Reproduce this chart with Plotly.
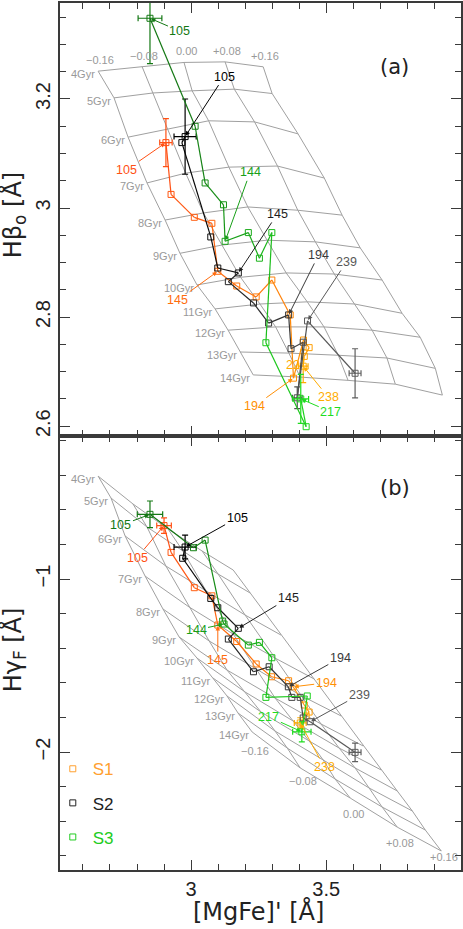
import plotly.graph_objects as go

# --- model grid labels ---
ages = ["4Gyr", "5Gyr", "6Gyr", "7Gyr", "8Gyr", "9Gyr", "10Gyr", "11Gyr", "12Gyr", "13Gyr", "14Gyr"]
feh = ["\u22120.16", "\u22120.08", "0.00", "+0.08", "+0.16"]

# --- panel (a) grid: Hbeta_o vs [MgFe]', one row per age, one column per [Fe/H] ---
grid_a_x = [
    [2.656, 2.819, 2.974, 3.126, 3.267],
    [2.715, 2.859, 3.004, 3.160, 3.300],
    [2.767, 2.913, 3.065, 3.235, 3.396],
    [2.837, 2.980, 3.140, 3.320, 3.493],
    [2.904, 3.046, 3.210, 3.395, 3.559],
    [2.959, 3.113, 3.280, 3.460, 3.626],
    [3.022, 3.183, 3.352, 3.530, 3.707],
    [3.089, 3.255, 3.430, 3.605, 3.781],
    [3.137, 3.313, 3.492, 3.670, 3.848],
    [3.181, 3.362, 3.545, 3.725, 3.904],
    [3.230, 3.404, 3.581, 3.756, 3.930],
]
grid_a_y = [
    [3.251, 3.259, 3.267, 3.268, 3.259],
    [3.202, 3.211, 3.215, 3.218, 3.210],
    [3.130, 3.145, 3.160, 3.158, 3.136],
    [3.046, 3.064, 3.075, 3.077, 3.055],
    [2.978, 2.991, 3.002, 2.996, 2.987],
    [2.917, 2.932, 2.941, 2.938, 2.927],
    [2.859, 2.873, 2.881, 2.879, 2.868],
    [2.815, 2.824, 2.828, 2.824, 2.807],
    [2.776, 2.782, 2.782, 2.776, 2.763],
    [2.736, 2.734, 2.730, 2.725, 2.706],
    [2.694, 2.690, 2.684, 2.677, 2.657],
]

# --- panel (b) grid: Hgamma_F vs [MgFe]' ---
grid_b_x = [
    [2.656, 2.785, 2.915, 3.041, 3.156],
    [2.704, 2.837, 2.970, 3.100, 3.219],
    [2.756, 2.907, 3.056, 3.200, 3.333],
    [2.830, 2.993, 3.156, 3.311, 3.456],
    [2.896, 3.067, 3.241, 3.404, 3.556],
    [2.956, 3.133, 3.311, 3.481, 3.637],
    [3.022, 3.200, 3.378, 3.548, 3.704],
    [3.081, 3.259, 3.437, 3.607, 3.763],
    [3.133, 3.311, 3.489, 3.659, 3.819],
    [3.174, 3.356, 3.533, 3.707, 3.867],
    [3.226, 3.404, 3.589, 3.763, 3.926],
]
grid_b_y = [
    [-0.405, -0.566, -0.711, -0.838, -0.948],
    [-0.532, -0.699, -0.838, -0.971, -1.081],
    [-0.751, -0.925, -1.069, -1.208, -1.324],
    [-0.983, -1.162, -1.318, -1.457, -1.578],
    [-1.173, -1.358, -1.520, -1.671, -1.792],
    [-1.335, -1.526, -1.688, -1.838, -1.965],
    [-1.457, -1.653, -1.821, -1.977, -2.104],
    [-1.572, -1.769, -1.936, -2.092, -2.225],
    [-1.676, -1.879, -2.046, -2.208, -2.341],
    [-1.775, -1.977, -2.156, -2.318, -2.451],
    [-1.884, -2.092, -2.266, -2.434, -2.572],
]

# --- measurements, panel (a) ---
s1_a_x = [2.907, 2.926, 3.012, 3.077, 3.099, 3.169, 3.241, 3.299, 3.367, 3.379, 3.416, 3.437, 3.419, 3.415]
s1_a_y = [3.120, 3.025, 2.983, 2.972, 2.884, 2.857, 2.837, 2.868, 2.804, 2.688, 2.758, 2.744, 2.728, 2.710]
s1_a_ex = [0.023, 0, 0, 0, 0, 0, 0, 0, 0, 0, 0, 0, 0, 0.018]
s1_a_ey = [0.044, 0, 0, 0, 0, 0, 0, 0, 0, 0, 0, 0, 0, 0.030]

s2_a_x = [2.978, 2.966, 3.073, 3.099, 3.175, 3.138, 3.231, 3.287, 3.361, 3.370, 3.415, 3.393, 3.431, 3.607]
s2_a_y = [3.131, 3.120, 2.947, 2.890, 2.881, 2.865, 2.826, 2.789, 2.804, 2.742, 2.754, 2.652, 2.793, 2.697]
s2_a_ex = [0.041, 0, 0, 0, 0, 0, 0, 0, 0, 0, 0, 0.018, 0, 0.022]
s2_a_ey = [0.069, 0, 0, 0, 0, 0, 0, 0, 0, 0, 0, 0.020, 0, 0.045]

s3_a_x = [2.848, 3.015, 3.052, 3.120, 3.126, 3.212, 3.253, 3.299, 3.277, 3.426, 3.406]
s3_a_y = [3.348, 3.150, 3.046, 3.006, 2.939, 2.955, 2.908, 2.955, 2.753, 2.599, 2.650]
s3_a_ex = [0.044, 0, 0, 0, 0, 0, 0, 0, 0, 0, 0.029]
s3_a_ey = [0.083, 0, 0, 0, 0, 0, 0, 0, 0, 0, 0.045]

# --- measurements, panel (b) ---
s1_b_x = [2.900, 2.926, 3.012, 3.077, 3.099, 3.169, 3.241, 3.298, 3.361, 3.378, 3.419, 3.437, 3.426, 3.404]
s1_b_y = [-0.691, -0.846, -1.050, -1.097, -1.266, -1.361, -1.491, -1.565, -1.588, -1.623, -1.728, -1.769, -1.792, -1.832]
s1_b_ex = [0.027, 0, 0, 0, 0, 0, 0, 0, 0, 0, 0, 0, 0, 0.022]
s1_b_ey = [0.045, 0, 0, 0, 0, 0, 0, 0, 0, 0, 0, 0, 0, 0.030]

s2_b_x = [2.978, 2.969, 3.073, 3.099, 3.175, 3.138, 3.231, 3.289, 3.360, 3.373, 3.404, 3.415, 3.441, 3.607]
s2_b_y = [-0.815, -0.880, -1.112, -1.166, -1.285, -1.347, -1.536, -1.507, -1.623, -1.684, -1.684, -1.803, -1.825, -2.002]
s2_b_ex = [0.041, 0, 0, 0, 0, 0, 0, 0, 0, 0, 0, 0, 0, 0.022]
s2_b_ey = [0.069, 0, 0, 0, 0, 0, 0, 0, 0, 0, 0, 0, 0, 0.054]

s3_b_x = [2.848, 3.009, 3.052, 3.117, 3.122, 3.212, 3.253, 3.299, 3.277, 3.430, 3.410]
s3_b_y = [-0.626, -0.819, -0.775, -1.243, -1.260, -1.382, -1.366, -1.455, -1.684, -1.676, -1.883]
s3_b_ex = [0.047, 0, 0, 0, 0, 0, 0, 0, 0, 0, 0.034]
s3_b_ey = [0.077, 0, 0, 0, 0, 0, 0, 0, 0, 0, 0.058]

# --- point labels: (point index, text, label offset x px, label offset y px) ---
s1_a_lab = [(0, "105", -39, 27), (4, "145", -40, 29), (9, "194", -39, 28), (13, "238", 25, 31)]
s2_a_lab = [(0, "105", 39, -60), (4, "145", 39, -59), (8, "194", 30, -60), (12, "239", 39, -59)]
s3_a_lab = [(0, "105", 30, 13), (4, "144", 25, -69), (10, "217", 30, 13)]
s1_b_lab = [(0, "105", -27, 32), (4, "145", 0, 35), (9, "194", 33, -4), (13, "238", 24, 44)]
s2_b_lab = [(0, "105", 52, -29), (4, "145", 50, -30), (8, "194", 52, -29), (12, "239", 49, -27)]
s3_b_lab = [(0, "105", -29, 11), (4, "144", -28, 6), (10, "217", -33, -15)]
# label without arrow, half hidden under the S1 points in panel (a)
s1_a_txt = [(13, "22", -10, 1)]

# colour runs from the centre of the galaxy outwards
S1_COL = ((255, 80, 20), (255, 172, 0))
S2_COL = ((0, 0, 0), (95, 95, 95))
S3_COL = ((20, 120, 20), (30, 220, 30))

GRID = "#a0a0a0"
FRAME = "#3a3a3a"
FONT = "Liberation Sans"

fig = go.Figure()
annotations = []


def blend(c0, c1, t):
    return "rgb(%d,%d,%d)" % tuple(round(a + (b - a) * t) for a, b in zip(c0, c1))


def add_grid(gx, gy, xa, ya, zlab_top):
    for i in range(len(gx)):
        fig.add_trace(go.Scatter(x=gx[i], y=gy[i], mode="lines", xaxis=xa, yaxis=ya,
                                 line=dict(color=GRID, width=1), showlegend=False, hoverinfo="skip"))
        annotations.append(dict(x=gx[i][0], y=gy[i][0], xref=xa, yref=ya, text=ages[i],
                                showarrow=False, xanchor="right", xshift=-1, yshift=-3,
                                font=dict(family=FONT, size=11, color="#999999")))
    for j in range(len(feh)):
        fig.add_trace(go.Scatter(x=[r[j] for r in gx], y=[r[j] for r in gy], mode="lines",
                                 xaxis=xa, yaxis=ya, line=dict(color=GRID, width=1),
                                 showlegend=False, hoverinfo="skip"))
        if zlab_top:
            annotations.append(dict(x=gx[0][j], y=gy[0][j], xref=xa, yref=ya, text=feh[j],
                                    showarrow=False, xshift=2, yshift=11,
                                    font=dict(family=FONT, size=11, color="#999999")))
        else:
            shift = [-19, -13, -16, -16, -6][j]
            annotations.append(dict(x=gx[-1][j], y=gy[-1][j], xref=xa, yref=ya, text=feh[j],
                                    showarrow=False, xshift=3, yshift=shift,
                                    font=dict(family=FONT, size=11, color="#999999")))


def add_series(x, y, ex, ey, labs, cols, xa, ya, plain=()):
    n = len(x)
    c = [blend(cols[0], cols[1], k / (n - 1)) for k in range(n)]
    for k in range(n - 1):
        fig.add_trace(go.Scatter(x=x[k:k + 2], y=y[k:k + 2], mode="lines", xaxis=xa, yaxis=ya,
                                 line=dict(color=c[k], width=1.2), showlegend=False, hoverinfo="skip"))
    fig.add_trace(go.Scatter(x=x, y=y, mode="markers", xaxis=xa, yaxis=ya, showlegend=False,
                             marker=dict(symbol="square-open", size=6, color=c, line=dict(width=1))))
    for k in range(n):
        if ex[k] or ey[k]:
            fig.add_trace(go.Scatter(
                x=[x[k]], y=[y[k]], mode="markers", xaxis=xa, yaxis=ya, showlegend=False,
                marker=dict(size=1, color=c[k]),
                error_x=dict(type="data", array=[ex[k]], color=c[k], thickness=1.2, width=3),
                error_y=dict(type="data", array=[ey[k]], color=c[k], thickness=1.2, width=3)))
    for k, txt, ax, ay in labs:
        annotations.append(dict(x=x[k], y=y[k], xref=xa, yref=ya, text=txt, showarrow=True,
                                ax=ax, ay=ay, arrowhead=2, arrowsize=0.9, arrowwidth=1,
                                arrowcolor=c[k], standoff=1,
                                font=dict(family=FONT, size=12.5, color=c[k])))
    for k, txt, dx, dy in plain:
        annotations.append(dict(x=x[k], y=y[k], xref=xa, yref=ya, text=txt, showarrow=False,
                                xshift=dx, yshift=dy,
                                font=dict(family=FONT, size=12.5, color=c[k])))


add_grid(grid_a_x, grid_a_y, "x", "y", True)
add_grid(grid_b_x, grid_b_y, "x2", "y2", False)

add_series(s1_a_x, s1_a_y, s1_a_ex, s1_a_ey, s1_a_lab, S1_COL, "x", "y", s1_a_txt)
add_series(s2_a_x, s2_a_y, s2_a_ex, s2_a_ey, s2_a_lab, S2_COL, "x", "y")
add_series(s3_a_x, s3_a_y, s3_a_ex, s3_a_ey, s3_a_lab, S3_COL, "x", "y")
add_series(s1_b_x, s1_b_y, s1_b_ex, s1_b_ey, s1_b_lab, S1_COL, "x2", "y2")
add_series(s2_b_x, s2_b_y, s2_b_ex, s2_b_ey, s2_b_lab, S2_COL, "x2", "y2")
add_series(s3_b_x, s3_b_y, s3_b_ex, s3_b_ey, s3_b_lab, S3_COL, "x2", "y2")

# legend entries (markers only)
for name, col in [("S1", "#ffa030"), ("S2", "#222222"), ("S3", "#22cc22")]:
    fig.add_trace(go.Scatter(x=[None], y=[None], mode="markers", xaxis="x2", yaxis="y2",
                             name="<span style='color:%s'>%s</span>" % (col, name), legendgroup=name,
                             marker=dict(symbol="square-open", size=6, color=col, line=dict(width=1))))

# panel tags and axis titles
title_font = dict(family="DejaVu Sans", size=24, color="#222")
for txt, px, py, ang, fnt in [
    ("(a)", 0.835, 0.926, 0, dict(family="DejaVu Sans", size=21, color="#222")),
    ("(b)", 0.835, 0.4406, 0, dict(family="DejaVu Sans", size=21, color="#222")),
    ("H\u03b2<sub>o</sub> [\u00c5]", -0.114, 0.7555, -90, title_font),
    ("H\u03b3<sub>F</sub> [\u00c5]", -0.114, 0.2537, -90, title_font),
    ("[MgFe]' [\u00c5]", 0.494, -0.0484, 0, title_font),
]:
    annotations.append(dict(x=px, y=py, xref="paper", yref="paper", text=txt, textangle=ang,
                            xanchor="center", yanchor="middle", showarrow=False, font=fnt))

axis_common = dict(showline=True, linecolor=FRAME, linewidth=1.5, mirror="ticks",
                   ticks="inside", ticklen=10, tickwidth=1.2, tickcolor=FRAME,
                   showgrid=False, zeroline=False, automargin=False,
                   tickfont=dict(family=FONT, size=20, color="#222"))

fig.update_layout(
    width=463, height=929,
    margin=dict(l=60, r=2, t=3, b=59, autoexpand=False),
    paper_bgcolor="white", plot_bgcolor="white",
    annotations=annotations,
    showlegend=True,
    legend=dict(x=-0.018, y=0.137, xanchor="left", yanchor="top", bgcolor="rgba(0,0,0,0)",
                tracegroupgap=9, font=dict(family=FONT, size=17)),
    xaxis=dict(axis_common, range=[2.515, 3.999], anchor="y", showticklabels=False,
               dtick=0.5, tick0=0,
               minor=dict(ticks="inside", ticklen=6, dtick=0.1, tick0=0, tickcolor=FRAME, tickwidth=1.2)),
    xaxis2=dict(axis_common, range=[2.515, 3.999], anchor="y2", matches="x",
                dtick=0.5, tick0=0,
                minor=dict(ticks="inside", ticklen=6, dtick=0.1, tick0=0, tickcolor=FRAME, tickwidth=1.2)),
    yaxis=dict(axis_common, range=[2.582, 3.376], domain=[0.5006, 1], anchor="x",
               dtick=0.2, tick0=0, tickangle=-90,
               minor=dict(ticks="inside", ticklen=6, dtick=0.05, tick0=0, tickcolor=FRAME, tickwidth=1.2)),
    yaxis2=dict(axis_common, range=[-2.682, -0.173], domain=[0, 0.5006], anchor="x2",
                dtick=1, tick0=0, tickangle=-90,
                minor=dict(ticks="inside", ticklen=6, dtick=0.2, tick0=0, tickcolor=FRAME, tickwidth=1.2)),
)

# no page margin, so the figure sits at the window's top-left corner
fig.write_html("out.html", config={"displayModeBar": False},
               post_script="document.body.style.margin='0px';")
